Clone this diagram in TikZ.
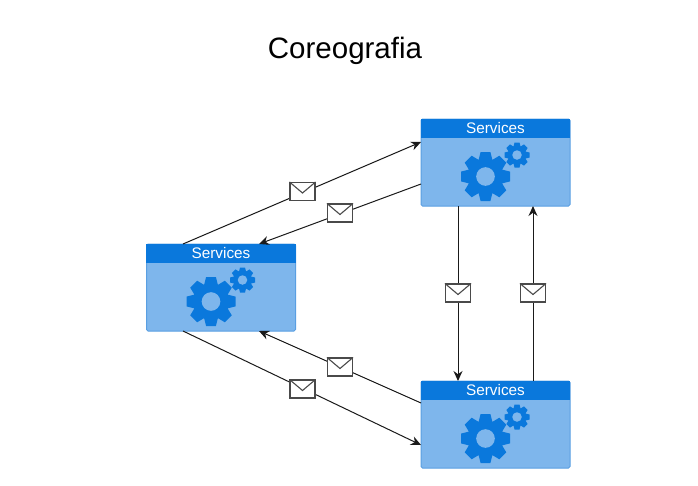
\documentclass[tikz,border=0pt]{standalone}
\usepackage{fontspec}
\setmainfont{Liberation Sans}
\usetikzlibrary{arrows.meta}
\definecolor{hdr}{HTML}{0A78DC}
\definecolor{bodyc}{HTML}{7EB6EC}
\definecolor{edgec}{HTML}{5A9FE2}
\definecolor{linec}{HTML}{1A1A1A}
\definecolor{envc}{HTML}{4A4A4A}
\tikzset{
  svcbody/.style={draw=edgec,line width=1pt,fill=bodyc,rounded corners=1.5pt,minimum width=149pt,minimum height=87pt,inner sep=0pt},
  svchead/.style={fill=hdr,minimum width=149.5pt,minimum height=19pt,inner sep=0pt,text=white,font=\fontsize{15.3}{16}\selectfont,anchor=north},
  msgbox/.style={draw=envc,line width=1.1pt,fill=white,minimum width=25pt,minimum height=18pt,inner sep=0pt},
  flow/.style={draw=linec,line width=1pt,-{Stealth[length=10pt,width=9pt]}},
  titletext/.style={font=\fontsize{29.5}{32}\selectfont,text=black,inner sep=0pt}
}
\newcommand{\gearshape}[3]{% x y R
  \begin{scope}[shift={(#1,#2)}]
    \fill[hdr] (0,0) circle[radius=0.74*#3];
    \foreach \a in {0,45,...,315}{
      \fill[hdr,rotate=\a] (-0.3*#3,0.6*#3) -- (-0.2*#3,#3) -- (0.2*#3,#3) -- (0.3*#3,0.6*#3) -- cycle;
    }
    \fill[bodyc] (0,0) circle[radius=0.38*#3];
  \end{scope}}
\newcommand{\servicebox}[3]{% name x y (centre)
  \node[svcbody] (#1) at (#2,#3) {};
  \node[svchead] (#1h) at (#1.north) {Services};
  \gearshape{#2-10}{#3+14}{24.5}
  \gearshape{#2+21.5}{#3-7.5}{12.5}}
\newcommand{\envelope}[3]{% name x y
  \node[msgbox] (#1) at (#2,#3) {};
  \draw[envc,line width=1.1pt] (#1.north west) -- (#2,#3+1.5) -- (#1.north east);}
\begin{document}
\begin{tikzpicture}[x=1pt,y=-1pt]
\useasboundingbox[fill=white] (0,0) rectangle (698,485);
\node[titletext] (title) at (345,50.5) {Coreografia};
\servicebox{T}{495.5}{162.5}
\servicebox{L}{221}{287.5}
\servicebox{B}{495.5}{424.5}
% ports
\coordinate (Ltop1) at (183,244);
\coordinate (Ltop2) at (259,244);
\coordinate (Lbot1) at (183,331);
\coordinate (Lbot2) at (259,331);
\coordinate (Tl1) at (421,142);
\coordinate (Tl2) at (421,184);
\coordinate (Tb1) at (458,206);
\coordinate (Tb2) at (533,206);
\coordinate (Bt1) at (458,381);
\coordinate (Bt2) at (533,381);
\coordinate (Bl1) at (421,403);
\coordinate (Bl2) at (421,445);
\draw[flow] (Ltop1) -- (Tl1);
\draw[flow] (Tl2) -- (Ltop2);
\draw[flow] (Tb1) -- (Bt1);
\draw[flow] (Bt2) -- (Tb2);
\draw[flow] (Bl1) -- (Lbot2);
\draw[flow] (Lbot1) -- (Bl2);
\envelope{m1}{302.5}{191.5}
\envelope{m2}{340}{213}
\envelope{m3}{458}{293}
\envelope{m4}{533}{293}
\envelope{m5}{340}{367}
\envelope{m6}{302.5}{389}
\end{tikzpicture}
\end{document}
